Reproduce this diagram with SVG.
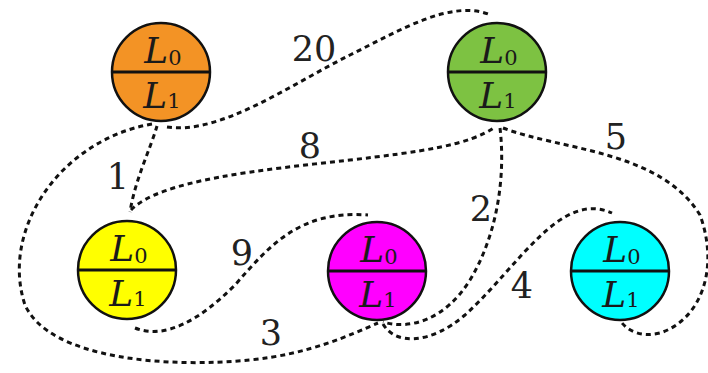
<svg xmlns="http://www.w3.org/2000/svg" width="708" height="373" viewBox="0 0 708 373">
<style>
.node circle{stroke:#111;stroke-width:2.5}
.node line{stroke:#111;stroke-width:3}
.node text{font-size:36px;fill:#1a1a1a;text-anchor:middle}
.node tspan{font-size:21px}
.edges path{fill:none;stroke:#111;stroke-width:3;stroke-dasharray:5 4}
.lbl{font-size:35px;fill:#222;text-anchor:middle}
</style>
<rect width="708" height="373" fill="#fff"/>
<g id="connectors" class="edges">
<path d="M157,126 C150,150 135,180 130,212"/>
<path d="M152,124 C60,140 0,230 25,305 C50,360 170,368 250,360 C310,354 350,335 378,323"/>
<path d="M167,127 C220,135 290,85 350,55 C400,30 450,0 488,14"/>
<path d="M131,210 C160,180 260,170 350,160 C420,152 470,145 495,127"/>
<path d="M135,328 C165,340 200,320 235,285 C270,245 300,210 368,215"/>
<path d="M500,128 C505,170 500,230 470,280 C445,320 410,330 383,322"/>
<path d="M383,324 C395,345 430,345 465,315 C520,265 560,190 612,213"/>
<path d="M503,128 C560,150 660,150 700,215 C720,270 700,320 660,333 C640,338 628,330 622,323"/>
</g>
<g id="labels" font-family="DejaVu Serif">
<text class="lbl" x="314" y="61">20</text>
<text class="lbl" x="118" y="189">1</text>
<text class="lbl" x="310" y="158">8</text>
<text class="lbl" x="242" y="265">9</text>
<text class="lbl" x="271" y="345">3</text>
<text class="lbl" x="481" y="221">2</text>
<text class="lbl" x="522" y="298">4</text>
<text class="lbl" x="616" y="149">5</text>
</g>
<g id="nodes" font-family="DejaVu Serif" font-style="italic">
<g id="n-orange" class="node">
<circle cx="161" cy="72" r="49" fill="#f39325"/>
<line x1="112" y1="72" x2="210" y2="72"/>
<text x="163" y="63">L<tspan dy="2" font-style="normal">0</tspan></text>
<text x="162" y="108">L<tspan font-style="normal">1</tspan></text>
</g>
<g id="n-green" class="node">
<circle cx="497" cy="72" r="49" fill="#7dc242"/>
<line x1="448" y1="72" x2="546" y2="72"/>
<text x="499" y="63">L<tspan dy="2" font-style="normal">0</tspan></text>
<text x="498" y="108">L<tspan font-style="normal">1</tspan></text>
</g>
<g id="n-yellow" class="node">
<circle cx="127" cy="270" r="49" fill="#ffff00"/>
<line x1="78" y1="270" x2="176" y2="270"/>
<text x="129" y="261">L<tspan dy="2" font-style="normal">0</tspan></text>
<text x="128" y="306">L<tspan font-style="normal">1</tspan></text>
</g>
<g id="n-magenta" class="node">
<circle cx="377" cy="271" r="49" fill="#ff00ff"/>
<line x1="328" y1="271" x2="426" y2="271"/>
<text x="379" y="262">L<tspan dy="2" font-style="normal">0</tspan></text>
<text x="378" y="307">L<tspan font-style="normal">1</tspan></text>
</g>
<g id="n-cyan" class="node">
<circle cx="620" cy="271" r="49" fill="#00ffff"/>
<line x1="571" y1="271" x2="669" y2="271"/>
<text x="622" y="262">L<tspan dy="2" font-style="normal">0</tspan></text>
<text x="621" y="307">L<tspan font-style="normal">1</tspan></text>
</g>
</g>
</svg>
